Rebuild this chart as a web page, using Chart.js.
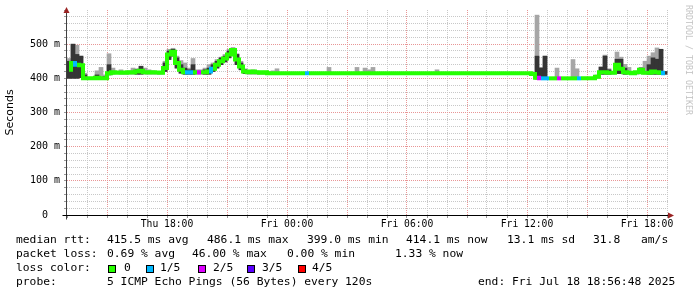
<!DOCTYPE html>
<html>
<head>
<meta charset="utf-8">
<script src="https://cdn.jsdelivr.net/npm/chart.js@4.4.1/dist/chart.umd.min.js"></script>
<style>
html, body { margin: 0; padding: 0; background: #fff; }
#wrap { position: relative; width: 697px; height: 297px; overflow: hidden;
        font-family: 'DejaVu Sans Mono', monospace; font-size: 11.3px; color: #000; }
#myChart { position: absolute; left: 0; top: 0; }
.ln { position: absolute; left: 0; width: 697px; height: 14px; line-height: 14px; white-space: pre; }
.ln span { position: absolute; top: 0; }
.ln i { position: absolute; top: 4px; width: 6px; height: 6px; border: 1px solid #000; }
#wm { position: absolute; left: 694px; top: 5px; transform-origin: 0 0; transform: rotate(90deg);
      font-size: 8.3px; line-height: 10px; color: #c4c4c4; white-space: pre; }
</style>
</head>
<body>
<div id="wrap">
  <canvas id="myChart" width="697" height="297"></canvas>
  <div id="wm">RRDTOOL / TOBI OETIKER</div>
  <div class="ln" style="top:233px">
    <span style="left:16px">median rtt:</span>
    <span style="left:107px">415.5 ms avg</span>
    <span style="left:207px">486.1 ms max</span>
    <span style="left:307px">399.0 ms min</span>
    <span style="left:406px">414.1 ms now</span>
    <span style="left:507px">13.1 ms sd</span>
    <span style="left:593px">31.8</span>
    <span style="left:641px">am/s</span>
  </div>
  <div class="ln" style="top:247px">
    <span style="left:16px">packet loss:</span>
    <span style="left:107px">0.69 % avg</span>
    <span style="left:192px">46.00 % max</span>
    <span style="left:287px">0.00 % min</span>
    <span style="left:395px">1.33 % now</span>
  </div>
  <div class="ln" id="lossRow" style="top:261px">
    <span style="left:16px">loss color:</span>
  </div>
  <div class="ln" style="top:275px">
    <span style="left:16px">probe:</span>
    <span style="left:107px">5 ICMP Echo Pings (56 Bytes) every 120s</span>
    <span style="left:478px">end: Fri Jul 18 18:56:48 2025</span>
  </div>
</div>
<script>
// one sample every 12 minutes, starting Thu 13:00 (hours on the x axis)
const stepHours = 0.2;

// median rtt in ms
const median = [
  425, 445, 440, 438, 400, 400, 400, 402, 400, 400,
  415, 418, 416, 417, 416, 418, 417, 420, 422, 418,
  417, 418, 417, 416, 430, 470, 478, 445, 425, 418,
  417, 418, 417, 418, 418, 420, 428, 440, 450, 458,
  470, 483, 455, 435, 420, 418, 420, 418, 416, 418,
  415, 415, 415, 415, 415, 415, 415, 415, 415, 415,
  415, 415, 415, 415, 415, 415, 415, 415, 415, 415,
  415, 415, 415, 415, 415, 415, 415, 415, 415, 415,
  415, 415, 415, 415, 415, 415, 415, 415, 415, 415,
  415, 415, 415, 415, 415, 415, 415, 415, 415, 415,
  415, 415, 415, 415, 415, 415, 415, 415, 415, 415,
  415, 415, 415, 415, 415, 415, 413, 402, 400, 400,
  400, 400, 400, 400, 400, 400, 400, 400, 400, 400,
  400, 400, 405, 418, 418, 416, 416, 440, 428, 418,
  416, 415, 418, 425, 416, 416, 420, 418, 416, 415
];

// lost pings out of 5
const lossCount = [
  0, 1, 0, 0, 0, 0, 0, 0, 0, 0,
  0, 0, 0, 0, 0, 0, 0, 0, 0, 0,
  0, 0, 0, 0, 0, 0, 0, 0, 0, 1,
  1, 0, 2, 0, 0, 1, 0, 0, 0, 0,
  0, 0, 0, 0, 0, 0, 0, 0, 0, 0,
  0, 0, 0, 0, 0, 0, 0, 0, 0, 1,
  0, 0, 0, 0, 0, 0, 0, 0, 0, 0,
  0, 0, 0, 0, 0, 0, 0, 0, 0, 0,
  0, 0, 0, 0, 0, 0, 0, 0, 0, 0,
  0, 0, 0, 0, 0, 0, 0, 0, 0, 0,
  0, 0, 0, 0, 0, 0, 0, 0, 0, 0,
  0, 0, 0, 0, 0, 0, 0, 2, 1, 1,
  0, 0, 2, 0, 0, 0, 0, 1, 0, 0,
  0, 0, 0, 0, 0, 0, 0, 0, 0, 0,
  0, 0, 0, 0, 0, 0, 0, 0, 1, 1
];

// lowest ping of the dense smoke (ms)
const smokeLow = [
  400, 400, 400, 402, 398, 398, 398, 398, 398, 398,
  410, 412, 412, 412, 412, 412, 412, 412, 412, 412,
  412, 412, 412, 412, 420, 455, 465, 430, 415, 412,
  412, 412, 412, 412, 412, 412, 420, 430, 440, 448,
  460, 470, 440, 425, 414, 412, 412, 412, 412, 412,
  412, 412, 412, 412, 412, 412, 412, 412, 412, 412,
  412, 412, 412, 412, 412, 412, 412, 412, 412, 412,
  412, 412, 412, 412, 412, 412, 412, 412, 412, 412,
  412, 412, 412, 412, 412, 412, 412, 412, 412, 412,
  412, 412, 412, 412, 412, 412, 412, 412, 412, 412,
  412, 412, 412, 412, 412, 412, 412, 412, 412, 412,
  412, 412, 412, 412, 412, 412, 410, 398, 396, 396,
  396, 396, 396, 396, 396, 396, 396, 396, 396, 396,
  396, 396, 400, 412, 412, 412, 412, 414, 414, 412,
  412, 412, 412, 414, 412, 412, 412, 412, 412, 412
];

// dense part of the smoke, top (ms), null = none visible
const smokeDark = [
  450, 500, 470, 465, 410, null, null, 410, null, 405,
  440, null, null, null, null, null, null, 425, 435, null,
  null, null, null, null, 445, 480, 485, 460, 440, 430,
  425, 440, null, null, 425, 430, 440, 450, 460, 465,
  480, 488, 470, 445, 425, null, null, null, null, null,
  null, null, null, null, null, null, null, null, null, null,
  null, null, null, null, null, null, null, null, null, null,
  null, null, null, null, null, null, null, null, null, null,
  null, null, null, null, null, null, null, null, null, null,
  null, null, null, null, null, null, null, null, null, null,
  null, null, null, null, null, null, null, null, null, null,
  null, null, null, null, null, null, null, 465, 430, 465,
  null, null, null, null, null, null, null, null, null, null,
  null, null, null, 433, 465, 425, null, 456, 456, 430,
  null, null, null, 430, null, 440, 460, 456, 485, 420
];

// outer part of the smoke, top (ms), null = none visible
const smokeLight = [
  458, 500, 497, 465, 415, null, null, 422, 432, 410,
  472, 430, null, 425, 420, 422, 430, 428, 436, 430,
  425, 422, 420, 420, 450, 485, 488, 465, 452, 445,
  430, 458, 425, 425, 430, 440, 445, 455, 462, 470,
  485, 490, 472, 450, 428, 422, 425, 422, 420, 421,
  420, 422, 428, null, null, null, null, null, null, null,
  null, null, null, null, null, 432, null, null, null, null,
  null, null, 432, null, 430, 425, 432, null, null, null,
  null, null, null, null, null, null, null, null, null, null,
  null, null, 425, null, null, null, null, null, null, null,
  null, null, null, null, null, null, null, null, null, null,
  null, null, null, null, null, null, null, 585, 432, 465,
  null, null, 430, null, null, null, 455, 428, null, null,
  null, null, 410, 433, 468, 428, 420, 477, 462, 441,
  432, null, 420, 432, 450, 465, 475, 489, 485, 420
];

const lossColors = ['#26ff00', '#00b8ff', '#dd00ff', '#5a00ff', '#ff0000'];
const lossLabels = ['0', '1/5', '2/5', '3/5', '4/5'];

const xTickHours = [5, 11, 17, 23, 29];
const xTickLabels = ['Thu 18:00', 'Fri 00:00', 'Fri 06:00', 'Fri 12:00', 'Fri 18:00'];
const yTickValues = [0, 100, 200, 300, 400, 500];
const yTickLabels = ['0', '100 m', '200 m', '300 m', '400 m', '500 m'];

// loss colour legend row
const lossRow = document.getElementById('lossRow');
const swatchX = [108, 146, 198, 247, 298];
const swatchTextX = [124, 160, 213, 262, 312];
lossLabels.forEach((lab, k) => {
  const box = document.createElement('i');
  box.style.left = swatchX[k] + 'px';
  box.style.background = lossColors[k];
  lossRow.appendChild(box);
  const t = document.createElement('span');
  t.style.left = swatchTextX[k] + 'px';
  t.textContent = lab;
  lossRow.appendChild(t);
});

const times = median.map((_, i) => i * stepHours + stepHours / 2);
const smokeBars = arr => arr.map((top, i) => top == null ? null : { x: times[i], y: [smokeLow[i], top] }).filter(Boolean);

const MAJOR = 'rgb(232,150,150)';
const MINOR = 'rgb(200,200,200)';
const NONE = 'rgba(0,0,0,0)';

const axisArrows = {
  id: 'axisArrows',
  afterDatasetsDraw(chart) {
    const { ctx, chartArea: a } = chart;
    const yb = Math.round(a.bottom) + 0.5;
    const xl = Math.round(a.left) - 0.5;
    ctx.save();
    ctx.lineWidth = 1;
    ctx.strokeStyle = '#404040';
    ctx.beginPath();
    ctx.moveTo(xl, a.top); ctx.lineTo(xl, yb + 4);
    ctx.stroke();
    ctx.strokeStyle = '#000';
    ctx.beginPath();
    ctx.moveTo(xl - 4, yb); ctx.lineTo(a.right + 2, yb);
    ctx.stroke();
    ctx.fillStyle = '#9a2323';
    ctx.beginPath();
    ctx.moveTo(xl, a.top - 3); ctx.lineTo(xl - 3, a.top + 3); ctx.lineTo(xl + 3, a.top + 3);
    ctx.closePath(); ctx.fill();
    ctx.beginPath();
    ctx.moveTo(a.right + 6, yb); ctx.lineTo(a.right, yb - 3); ctx.lineTo(a.right, yb + 3);
    ctx.closePath(); ctx.fill();
    ctx.restore();
  }
};

Chart.defaults.font.family = "'DejaVu Sans Mono', monospace";
Chart.defaults.color = '#000';

const ctx = document.getElementById('myChart').getContext('2d');
new Chart(ctx, {
  type: 'bar',
  data: {
    datasets: [
      {
        type: 'line',
        label: 'median rtt',
        data: median.map((v, i) => ({ x: times[i], y: v })),
        stepped: 'middle',
        borderWidth: 4,
        borderCapStyle: 'butt',
        pointRadius: 0,
        borderColor: lossColors[0],
        segment: { borderColor: c => lossColors[lossCount[c.p0DataIndex]] },
        order: 0
      },
      { label: 'smoke', data: smokeBars(smokeDark), backgroundColor: '#353535', order: 1 },
      { label: 'smoke outer', data: smokeBars(smokeLight), backgroundColor: '#a6a6a6', order: 2 }
    ]
  },
  options: {
    responsive: false,
    animation: false,
    layout: { padding: { left: 0, top: 10, right: 29, bottom: 0 } },
    plugins: { legend: { display: false }, tooltip: { enabled: false } },
    datasets: { bar: { grouped: false, barPercentage: 1, categoryPercentage: 1, borderWidth: 0 } },
    scales: {
      x: {
        type: 'linear', min: 0, max: 30.05, offset: false,
        afterFit: s => { s.height = 82; },
        ticks: {
          stepSize: 1, includeBounds: false, autoSkip: false, maxRotation: 0, padding: 1,
          font: { size: 9.7 },
          callback: v => { const k = xTickHours.indexOf(Math.round(v)); return (k < 0 || Math.abs(v - Math.round(v)) > 1e-6) ? '' : xTickLabels[k]; }
        },
        grid: {
          offset: false, tickLength: 3, tickColor: '#999',
          color: c => {
            if (!c.tick) return NONE;
            const h = Math.round(c.tick.value);
            if (Math.abs(c.tick.value - h) > 1e-6 || h <= 0) return NONE;
            return h % 3 === 2 ? MAJOR : MINOR;
          }
        },
        border: { display: false, dash: [1, 1] }
      },
      y: {
        min: 0, max: 600,
        afterFit: s => { s.width = 67; },
        title: { display: true, text: 'Seconds', font: { family: "'DejaVu Sans', sans-serif", size: 11 }, color: '#000' },
        ticks: {
          stepSize: 20, includeBounds: false, autoSkip: false, crossAlign: 'center', padding: 4,
          font: { size: 10 },
          callback: v => { const k = yTickValues.indexOf(Math.round(v)); return k < 0 ? '' : yTickLabels[k]; }
        },
        grid: {
          tickLength: 3, tickColor: '#999',
          color: c => {
            if (!c.tick) return NONE;
            const v = Math.round(c.tick.value);
            if (v <= 0 || v >= 600) return NONE;
            return v % 100 === 0 ? MAJOR : MINOR;
          }
        },
        border: { display: false, dash: [1, 1] }
      }
    }
  },
  plugins: [axisArrows]
});
</script>
</body>
</html>
